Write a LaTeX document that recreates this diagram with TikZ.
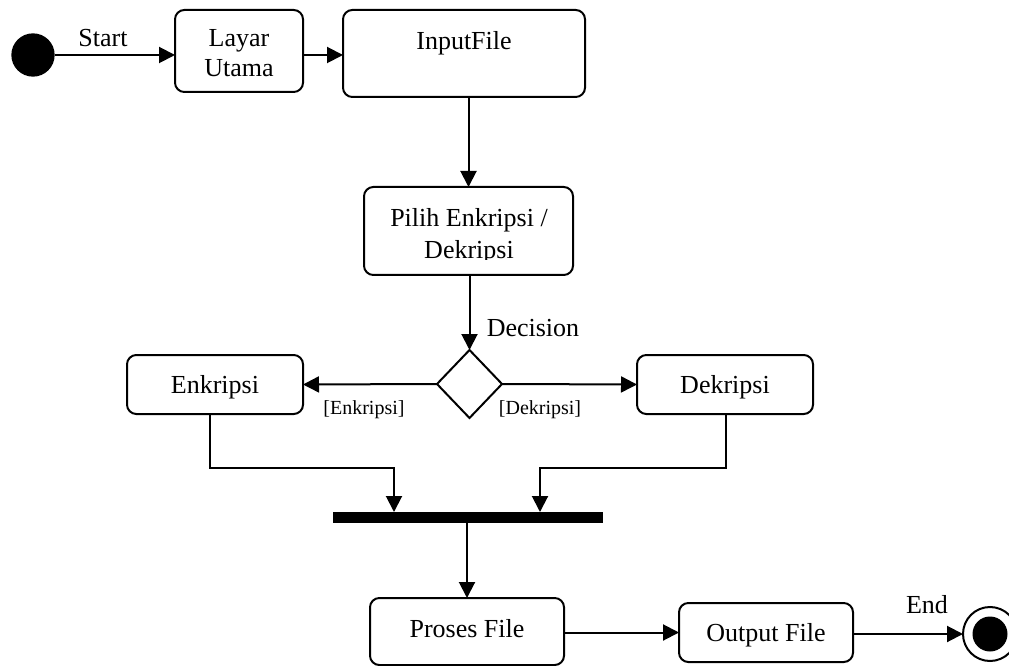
\documentclass[tikz,border=0pt]{standalone}
\usepackage{fontspec}
\setmainfont{Liberation Serif}
\usetikzlibrary{arrows.meta,shapes.geometric}
\begin{document}
\begin{tikzpicture}[x=0.75pt,y=-0.75pt,
  every node/.style={inner sep=0pt, outer sep=0pt},
  box/.style={draw, line width=1.5pt, rounded corners=7pt},
  lbl/.style={font=\fontsize{19.5}{23}\selectfont, anchor=base},
  guard/.style={font=\fontsize{15}{18}\selectfont, anchor=base},
  arr/.style={line width=1.5pt, -{Triangle[length=12pt,width=12pt]}}]
\useasboundingbox (0,0) rectangle (1009,666);

% activity states
\node[circle, fill=black, minimum size=32.5pt] (start) at (33,55) {};
\node[box, minimum width=96pt, minimum height=61.5pt] (layar) at (239,51) {};
\node[box, minimum width=181.5pt, minimum height=65.25pt] (input) at (464,53.5) {};
\node[box, minimum width=156.75pt, minimum height=66pt] (pilih) at (468.5,231) {};
\node[diamond, draw, line width=1.5pt, minimum width=48.75pt, minimum height=51pt] (dec) at (469.5,384) {};
\node[box, minimum width=132pt, minimum height=44.25pt] (enk) at (215,384.5) {};
\node[box, minimum width=132pt, minimum height=44.25pt] (dek) at (725,384.5) {};
\node[fill=black, minimum width=202.5pt, minimum height=8.25pt] (bar) at (468,517.5) {};
\node[box, minimum width=145.5pt, minimum height=50.25pt] (proses) at (467,631.5) {};
\node[box, minimum width=130.5pt, minimum height=44.25pt] (output) at (766,632.5) {};
\node[circle, draw, line width=1.5pt, minimum size=40.5pt] (endc) at (990,634) {};
\node[circle, fill=black, minimum size=26.25pt] (endd) at (990,634) {};

% texts
\node[lbl] (tstart) at (103,47) {Start};
\node[lbl] (tlayar) at (239,47) {Layar};
\node[lbl] (tutama) at (239,77) {Utama};
\node[lbl] (tinput) at (464,50) {InputFile};
\node[lbl] (tpilih) at (469,227) {Pilih Enkripsi /};
\begin{scope}
  \clip (364,187) rectangle (573,260);
  \node[lbl] (tdekr) at (469,259) {Dekripsi};
\end{scope}
\node[lbl] (tdecision) at (533,336) {Decision};
\node[lbl] (tenk) at (215,393) {Enkripsi};
\node[lbl] (tdek) at (725,393) {Dekripsi};
\node[guard] (genk) at (364,414) {[Enkripsi]};
\node[guard] (gdek) at (540,414) {[Dekripsi]};
\node[lbl] (tproses) at (467,637) {Proses File};
\node[lbl] (toutput) at (766,641) {Output File};
\node[lbl] (tend) at (927,613) {End};

% transitions
\coordinate (enkjoin) at (394,468);
\coordinate (dekjoin) at (540,468);
\draw[arr] (start) -- (start -| layar.west);
\draw[arr] (layar.east |- start) -- (start -| input.west);
\draw[arr] (pilih.north |- input.south) -- (pilih.north);
\draw[arr] (dec.north |- pilih.south) -- (dec.north);
\draw[arr] (dec.west) -- (enk.east);
\draw[arr] (dec.east) -- (dek.west);
\draw[arr] ([xshift=-3.75pt]enk.south) |- (enkjoin) -- (enkjoin |- bar.north);
\draw[arr] ([xshift=0.75pt]dek.south) |- (dekjoin) -- (dekjoin |- bar.north);
\draw[arr] (proses.north |- bar.south) -- (proses.north);
\draw[arr] (proses.east |- output) -- (output.west);
\draw[arr] (output.east |- endc) -- (endc.west);
\end{tikzpicture}
\end{document}
